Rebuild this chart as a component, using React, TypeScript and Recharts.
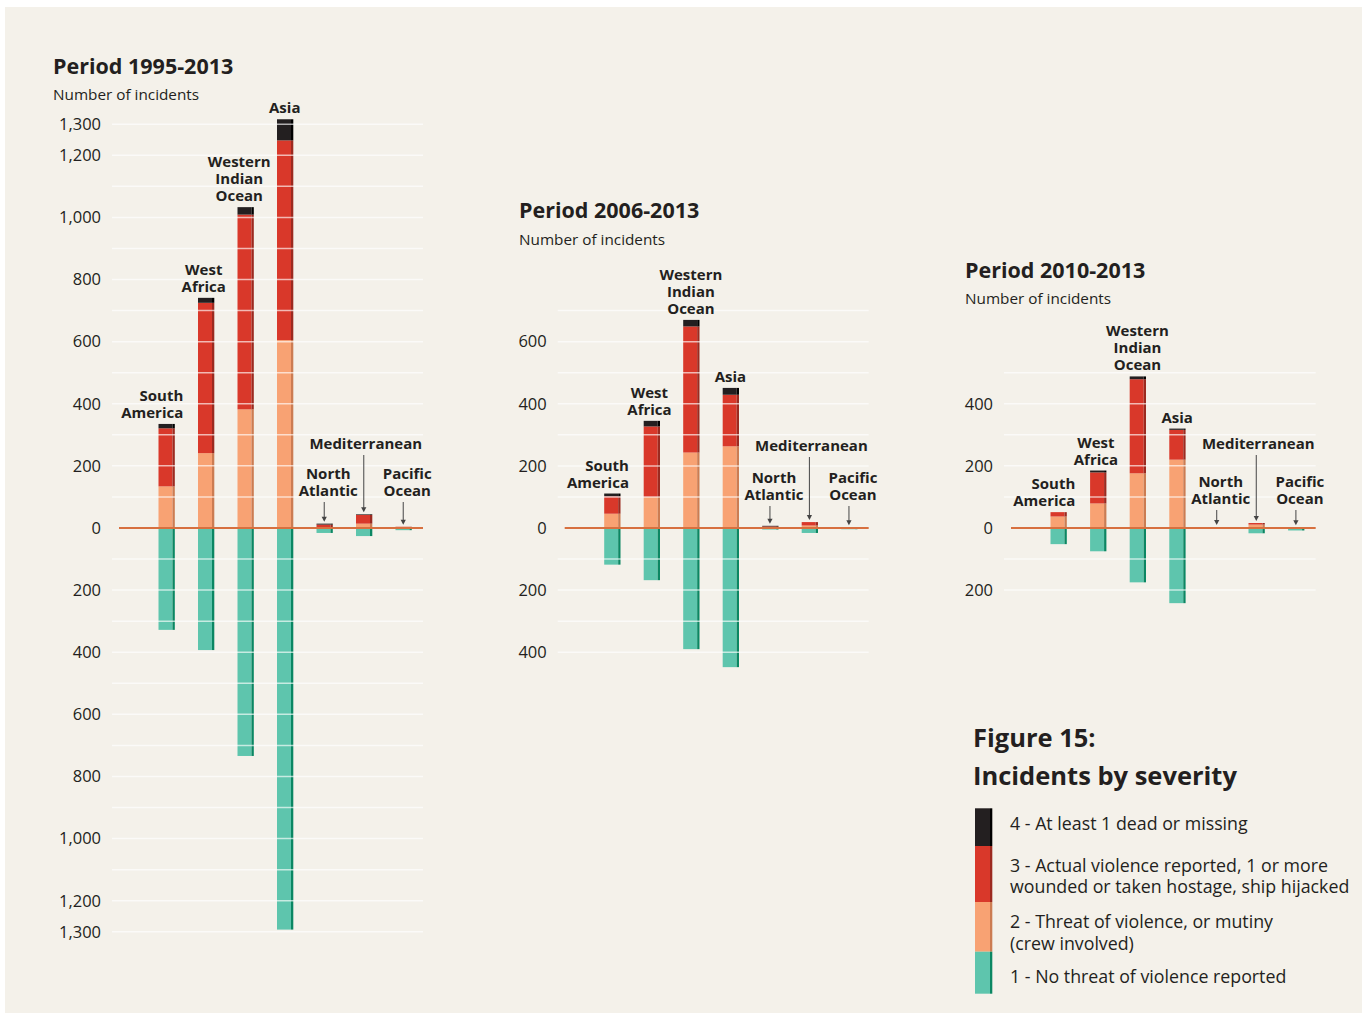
import React from 'react';
import { ComposedChart, Bar, Line, XAxis, YAxis, ReferenceLine } from 'recharts';

// ---------- data ----------
const regions = [
  'South America',
  'West Africa',
  'Western Indian Ocean',
  'Asia',
  'North Atlantic',
  'Mediterranean',
  'Pacific Ocean',
];

// Period 1995-2013
const noThreat1995 = [328, 393, 734, 1293, 16, 26, 7];
const threat1995 = [134, 241, 382, 605, 3, 14, 3];
const violence1995 = [187, 484, 627, 643, 8, 28, 1];
const dead1995 = [14, 16, 24, 68, 3, 2, 0];

// Period 2006-2013
const noThreat2006 = [118, 168, 390, 448, 5, 16, 4];
const threat2006 = [46, 100, 243, 263, 2, 8, 2];
const violence2006 = [56, 227, 406, 166, 3, 11, 0];
const dead2006 = [9, 18, 21, 22, 2, 0, 0];

// Period 2010-2013
const noThreat2010 = [52, 75, 175, 242, 1, 17, 8];
const threat2010 = [37, 79, 176, 220, 3, 11, 2];
const violence2010 = [14, 100, 303, 96, 0, 5, 0];
const dead2010 = [0, 6, 9, 4, 0, 0, 0];

const ticks1995 = [1300, 1200, 1000, 800, 600, 400, 200, 0, -200, -400, -600, -800, -1000, -1200, -1300];
const ticks2006 = [600, 400, 200, 0, -200, -400];
const ticks2010 = [400, 200, 0, -200];

const grid1995 = [1300, 1200, 1100, 1000, 900, 800, 700, 600, 500, 400, 300, 200, 100, -100, -200, -300, -400, -500, -600, -700, -800, -900, -1000, -1100, -1200, -1300];
const grid2006 = [700, 600, 500, 400, 300, 200, 100, -100, -200, -300, -400];
const grid2010 = [500, 400, 300, 200, 100, -100, -200];

const legendItems = [
  { key: 'dead', lines: ['4 - At least 1 dead or missing'] },
  { key: 'violence', lines: ['3 - Actual violence reported, 1 or more', 'wounded or taken hostage, ship hijacked'] },
  { key: 'threat', lines: ['2 - Threat of violence, or mutiny', '(crew involved)'] },
  { key: 'noThreat', lines: ['1 - No threat of violence reported'] },
];

// ---------- styles ----------
const FONT = "'Open Sans', sans-serif";
const INK = '#231f20';
const BG = '#f4f1ea';
const COLORS: Record<string, { fill: string; edge: string }> = {
  noThreat: { fill: '#5ec5ad', edge: '#0b8763' },
  threat: { fill: '#f8a273', edge: '#cc7c52' },
  violence: { fill: '#d9382a', edge: '#9c2a20' },
  dead: { fill: '#231f20', edge: '#000000' },
};
const ZERO_COLOR = '#d7703f';

const SCALE = 0.3106; // px per incident
const ZERO_Y = 528;
const Y_AXIS_W = 50;

const LABEL_LINES: Record<string, string[]> = {
  'South America': ['South', 'America'],
  'West Africa': ['West', 'Africa'],
  'Western Indian Ocean': ['Western', 'Indian', 'Ocean'],
  Asia: ['Asia'],
  'North Atlantic': ['North', 'Atlantic'],
  Mediterranean: ['Mediterranean'],
  'Pacific Ocean': ['Pacific', 'Ocean'],
};
const SMALL = new Set(['North Atlantic', 'Mediterranean', 'Pacific Ocean']);
const BASE_DX: Record<string, number> = {
  'South America': 0,
  'West Africa': -2,
  'Western Indian Ocean': 0,
  Asia: 0,
  'North Atlantic': 4,
  Mediterranean: 2,
  'Pacific Ocean': 4,
};

function buildRows(l1: number[], l2: number[], l3: number[], l4: number[]) {
  return regions.map((region, i) => ({
    region,
    noThreat: -l1[i],
    threat: l2[i],
    violence: l3[i],
    dead: l4[i],
    total: l2[i] + l3[i] + l4[i],
  }));
}

const makeShape = (key: string) => (props: any) => {
  let { x, y, width, height } = props;
  if (height == null || width == null) return <g />;
  if (height < 0) {
    y += height;
    height = -height;
  }
  if (!height) return <g />;
  const e = 2.3;
  const c = COLORS[key];
  return (
    <g>
      <rect x={x} y={y} width={width - e} height={height} fill={c.fill} />
      <rect x={x + width - e} y={y} width={e} height={height} fill={c.edge} />
    </g>
  );
};

function RegionLabel({ cx, cy, region, small, wioDx }: any) {
  const lines = LABEL_LINES[region] || [region];
  const lh = 17;
  const isSmall = SMALL.has(region);
  const lastBaseline = isSmall
    ? ZERO_Y - (lines.length === 1 ? small.one : small.two)
    : cy - 6;
  let anchor: 'middle' | 'end' = 'middle';
  let tx = cx + (BASE_DX[region] || 0);
  if (region === 'South America') {
    anchor = 'end';
    tx = cx + 17;
  }
  if (region === 'Western Indian Ocean') tx = cx + wioDx;
  const firstBaseline = lastBaseline - (lines.length - 1) * lh;
  const arrowStart = lastBaseline + 6;
  const arrowEnd = cy - 2;
  return (
    <g>
      <text
        x={tx}
        y={firstBaseline}
        textAnchor={anchor}
        fontFamily={FONT}
        fontWeight={700}
        fontSize={15}
        fill={INK}
      >
        {lines.map((t, i) => (
          <tspan key={i} x={tx} dy={i === 0 ? 0 : lh}>
            {t}
          </tspan>
        ))}
      </text>
      {isSmall && (
        <g>
          <line x1={cx} y1={arrowStart} x2={cx} y2={arrowEnd - 4} stroke="#555" strokeWidth={1.1} />
          <path d={`M${cx - 2.6},${arrowEnd - 5} L${cx + 2.6},${arrowEnd - 5} L${cx},${arrowEnd} Z`} fill="#444" />
        </g>
      )}
    </g>
  );
}

interface PanelProps {
  rows: any[];
  ticks: number[];
  grid: number[];
  domain: [number, number];
  divLeft: number;
  plotLeft: number;
  plotRight: number;
  small: { one: number; two: number };
  wioDx: number;
}

function Panel({ rows, ticks, grid, domain, divLeft, plotLeft, plotRight, small, wioDx }: PanelProps) {
  const plotTop = ZERO_Y - domain[1] * SCALE;
  const plotHeight = (domain[1] - domain[0]) * SCALE;
  const bottom = 24;
  const right = 30;
  const width = plotRight - divLeft + right;
  const height = plotTop + plotHeight + bottom;
  return (
    <div style={{ position: 'absolute', left: divLeft, top: 0, width, height }}>
      <ComposedChart
        width={width}
        height={height}
        data={rows}
        stackOffset="sign"
        margin={{ top: plotTop, right, bottom, left: plotLeft - divLeft - Y_AXIS_W }}
      >
        <XAxis dataKey="region" type="category" hide padding={{ left: 34.5, right: 0 }} />
        <YAxis
          type="number"
          domain={domain}
          ticks={ticks}
          interval={0}
          width={Y_AXIS_W}
          axisLine={false}
          tickLine={false}
          tickSize={0}
          tickMargin={11}
          tick={{ fill: INK, fontSize: 16.5, fontFamily: FONT }}
          tickFormatter={(v: number) => Math.abs(v).toLocaleString('en-US')}
        />
        {(['noThreat', 'threat', 'violence', 'dead'] as const).map((k) => (
          <Bar
            key={k}
            dataKey={k}
            stackId="s"
            barSize={16.3}
            fill={COLORS[k].fill}
            shape={makeShape(k)}
            isAnimationActive={false}
          />
        ))}
        {grid.map((g) => (
          <ReferenceLine key={`g${g}`} y={g} stroke="#ffffff" strokeWidth={1.5} strokeOpacity={0.65} />
        ))}
        <ReferenceLine
          y={0}
          stroke={ZERO_COLOR}
          strokeWidth={1.8}
          shape={(p: any) => (
            <line x1={p.x1 + 7} y1={p.y1} x2={p.x2} y2={p.y2} stroke={ZERO_COLOR} strokeWidth={1.8} />
          )}
        />
        <Line
          dataKey="total"
          stroke="none"
          legendType="none"
          isAnimationActive={false}
          activeDot={false}
          dot={(p: any) => (
            <RegionLabel
              key={`lab-${p.index}`}
              cx={p.cx}
              cy={p.cy}
              region={p.payload.region}
              small={small}
              wioDx={wioDx}
            />
          )}
        />
      </ComposedChart>
    </div>
  );
}

function Overlay() {
  const segs = [
    { key: 'dead', y0: 808.3, y1: 846 },
    { key: 'violence', y0: 846, y1: 902 },
    { key: 'threat', y0: 902, y1: 951.7 },
    { key: 'noThreat', y0: 951.7, y1: 993.7 },
  ];
  const itemBaselines = [830, 871.7, 928.3, 983.3];
  return (
    <svg
      width={1364}
      height={1015}
      style={{ position: 'absolute', left: 0, top: 0, pointerEvents: 'none' }}
    >
      <g fontFamily={FONT} fill={INK}>
        <text x={53} y={73.5} fontSize={21.5} fontWeight={700}>Period 1995-2013</text>
        <text x={53} y={99.5} fontSize={15.3}>Number of incidents</text>
        <text x={519} y={218.3} fontSize={21.5} fontWeight={700}>Period 2006-2013</text>
        <text x={519} y={245} fontSize={15.3}>Number of incidents</text>
        <text x={965} y={277.7} fontSize={21.5} fontWeight={700}>Period 2010-2013</text>
        <text x={965} y={304} fontSize={15.3}>Number of incidents</text>

        <text x={973} y={746.7} fontSize={25.5} fontWeight={700}>
          <tspan x={973} dy={0}>Figure 15:</tspan>
          <tspan x={973} dy={38.3}>Incidents by severity</tspan>
        </text>
        {segs.map((s) => (
          <g key={s.key}>
            <rect x={975} y={s.y0} width={15} height={s.y1 - s.y0} fill={COLORS[s.key].fill} />
            <rect x={990} y={s.y0} width={2.3} height={s.y1 - s.y0} fill={COLORS[s.key].edge} />
          </g>
        ))}
        {legendItems.map((item, i) => (
          <text key={item.key} x={1010} y={itemBaselines[i]} fontSize={17.8}>
            {item.lines.map((t, j) => (
              <tspan key={j} x={1010} dy={j === 0 ? 0 : 21.3}>
                {t}
              </tspan>
            ))}
          </text>
        ))}
      </g>
    </svg>
  );
}

export default function App() {
  const rows1995 = buildRows(noThreat1995, threat1995, violence1995, dead1995);
  const rows2006 = buildRows(noThreat2006, threat2006, violence2006, dead2006);
  const rows2010 = buildRows(noThreat2010, threat2010, violence2010, dead2010);
  return (
    <div style={{ position: 'absolute', left: 0, top: 0, width: 1364, height: 1015, background: '#ffffff', overflow: 'hidden' }}>
      <div style={{ position: 'absolute', left: 5, top: 7, width: 1357, height: 1006, background: BG }} />
      <Panel
        rows={rows1995}
        ticks={ticks1995}
        grid={grid1995}
        domain={[-1300, 1325]}
        divLeft={0}
        plotLeft={112}
        plotRight={423}
        small={{ one: 79, two: 32 }}
        wioDx={-6}
      />
      <Panel
        rows={rows2006}
        ticks={ticks2006}
        grid={grid2006}
        domain={[-460, 700]}
        divLeft={470}
        plotLeft={557.7}
        plotRight={868.7}
        small={{ one: 77, two: 28 }}
        wioDx={0}
      />
      <Panel
        rows={rows2010}
        ticks={ticks2010}
        grid={grid2010}
        domain={[-250, 500]}
        divLeft={920}
        plotLeft={1004}
        plotRight={1315.7}
        small={{ one: 79, two: 24 }}
        wioDx={0}
      />
      <Overlay />
    </div>
  );
}
